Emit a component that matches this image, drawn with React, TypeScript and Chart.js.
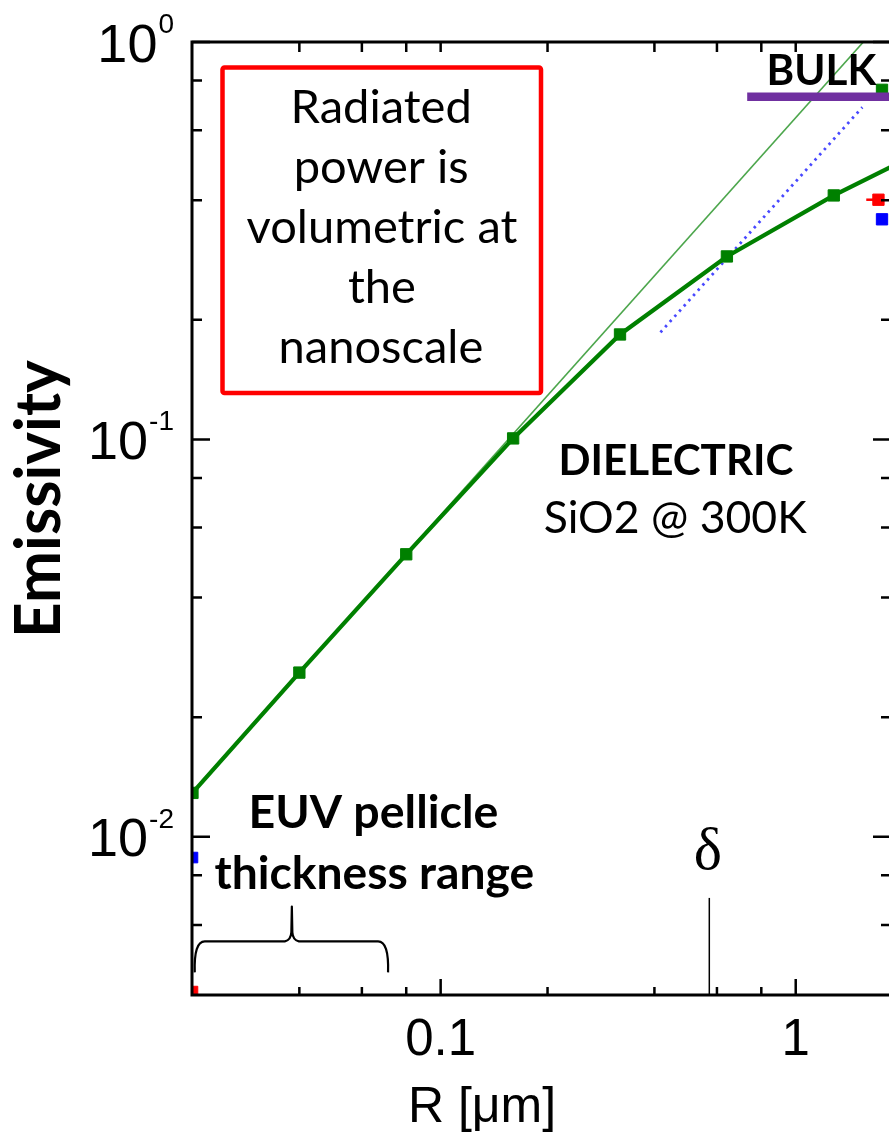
import React, { useEffect, useRef } from 'react';
import { Chart, registerables } from 'chart.js';

Chart.register(...registerables);

// ---- data ----
const radiusUm = [0.02, 0.04, 0.08, 0.16, 0.32, 0.64, 1.28, 2.56];
const emissivity = [0.0129, 0.0259, 0.0514, 0.1006, 0.1837, 0.2887, 0.4111, 0.56];

const linearRadius = [0.02, 2.0];
const linearEmissivity = [0.0129, 1.29];

const blueRadius = [0.416, 1.54];
const blueEmissivity = [0.186, 0.685];

const bulkRadius = [0.73, 2.0];
const bulkEmissivity = [0.728, 0.728];

const deltaRadius = [0.571, 0.571];
const deltaEmissivity = [0.004, 0.00702];

const bulkGreenRadius = [1.75];
const bulkGreenEmissivity = [0.758];
const bulkRedRadius = [1.58, 1.71];
const bulkRedEmissivity = [0.401, 0.401];
const bulkBlueRadius = [1.75];
const bulkBlueEmissivity = [0.358];

const edgeRedRadius = [0.02];
const edgeRedEmissivity = [0.00408];
const edgeBlueRadius = [0.02];
const edgeBlueEmissivity = [0.00887];

// brace: left end, tip, right end (x) ; end, bar, tip (y)
const braceRadius = [0.0203, 0.0381, 0.0711];
const braceEmissivity = [0.00456, 0.00546, 0.00668];

const xMajorTicks = [0.1, 1];
const xMajorLabels = ['0.1', '1'];
const xMinorTicks = [0.04, 0.06, 0.08, 0.2, 0.4, 0.6, 0.8];
const yMajorTicks = [1, 0.1, 0.01];
const yMajorExponents = ['0', '-1', '-2'];
const yMinorTicks = [0.8, 0.6, 0.4, 0.2, 0.08, 0.06, 0.04, 0.02, 0.008, 0.006];

const X_MIN = 0.01994;
const X_MAX = 1.855;
const Y_MIN = 0.004;
const Y_MAX = 1;

const boxLines = ['Radiated', 'power is', 'volumetric at', 'the', 'nanoscale'];

const pts = (xs: number[], ys: number[]) => xs.map((x, i) => ({ x, y: ys[i] }));

const SANS = "'Liberation Sans', Arial, sans-serif";
const CAL = 'Lato, sans-serif';
const SERIF = "'Liberation Serif', 'Times New Roman', serif";

function inkWidth(ctx: CanvasRenderingContext2D, text: string) {
  ctx.textAlign = 'left';
  ctx.textBaseline = 'alphabetic';
  const m = ctx.measureText(text);
  return { w: m.actualBoundingBoxLeft + m.actualBoundingBoxRight, l: m.actualBoundingBoxLeft };
}

function fitSize(ctx: CanvasRenderingContext2D, text: string, weight: string, family: string, width: number) {
  ctx.font = `${weight} 100px ${family}`;
  const { w } = inkWidth(ctx, text);
  return (100 * width) / w;
}

function drawCentered(ctx: CanvasRenderingContext2D, text: string, cx: number, baseline: number) {
  const { w, l } = inkWidth(ctx, text);
  ctx.fillText(text, cx - w / 2 + l, baseline);
}

function drawFitted(
  ctx: CanvasRenderingContext2D,
  text: string,
  weight: string,
  family: string,
  width: number,
  cx: number,
  baseline: number
) {
  const size = fitSize(ctx, text, weight, family, width);
  ctx.font = `${weight} ${size}px ${family}`;
  drawCentered(ctx, text, cx, baseline);
}

const decorPlugin = {
  id: 'decor',
  afterDatasetsDraw(chart: any) {
    const ctx: CanvasRenderingContext2D = chart.ctx;
    const { left, right, top, bottom } = chart.chartArea;
    const xs = chart.scales.x;
    const ys = chart.scales.y;
    ctx.save();

    // brace for EUV pellicle thickness range
    const xl = xs.getPixelForValue(braceRadius[0]);
    const xt = xs.getPixelForValue(braceRadius[1]);
    const xr = xs.getPixelForValue(braceRadius[2]);
    const yEnd = ys.getPixelForValue(braceEmissivity[0]);
    const yBar = ys.getPixelForValue(braceEmissivity[1]);
    const yTip = ys.getPixelForValue(braceEmissivity[2]);
    ctx.strokeStyle = '#000';
    ctx.lineWidth = 2.2;
    ctx.lineJoin = 'round';
    ctx.beginPath();
    ctx.moveTo(xl, yEnd);
    ctx.quadraticCurveTo(xl - 1, yBar, xl + 10, yBar);
    ctx.lineTo(xt - 7, yBar);
    ctx.quadraticCurveTo(xt - 1, yBar - 1, xt - 0.5, yBar - 9);
    ctx.lineTo(xt, yTip);
    ctx.lineTo(xt + 0.5, yBar - 9);
    ctx.quadraticCurveTo(xt + 1, yBar - 1, xt + 7, yBar);
    ctx.lineTo(xr - 10, yBar);
    ctx.quadraticCurveTo(xr + 1, yBar, xr, yEnd);
    ctx.stroke();

    // frame
    ctx.lineWidth = 3;
    ctx.lineCap = 'square';
    ctx.beginPath();
    ctx.moveTo(left, top);
    ctx.lineTo(right, top);
    ctx.moveTo(left, bottom);
    ctx.lineTo(right, bottom);
    ctx.moveTo(left, top);
    ctx.lineTo(left, bottom);
    ctx.moveTo(right, top);
    ctx.lineTo(right, bottom);
    ctx.stroke();

    // inward ticks
    ctx.lineCap = 'butt';
    ctx.lineWidth = 2.5;
    ctx.beginPath();
    const yTick = (v: number, len: number) => {
      const p = ys.getPixelForValue(v);
      ctx.moveTo(left, p);
      ctx.lineTo(left + len, p);
      ctx.moveTo(right, p);
      ctx.lineTo(right - len, p);
    };
    yMajorTicks.forEach((v) => yTick(v, 18));
    yMinorTicks.forEach((v) => yTick(v, 10));
    const xTick = (v: number, lenB: number, lenT: number) => {
      const p = xs.getPixelForValue(v);
      ctx.moveTo(p, bottom);
      ctx.lineTo(p, bottom - lenB);
      ctx.moveTo(p, top);
      ctx.lineTo(p, top + lenT);
    };
    xMajorTicks.forEach((v) => xTick(v, 16, 10));
    xMinorTicks.forEach((v) => xTick(v, 8, 10));
    ctx.stroke();
    ctx.restore();
  },
  afterDraw(chart: any) {
    const ctx: CanvasRenderingContext2D = chart.ctx;
    const xs = chart.scales.x;
    const ys = chart.scales.y;
    ctx.save();
    ctx.fillStyle = '#000';

    // y tick labels 10^n
    yMajorTicks.forEach((v, i) => {
      const p = ys.getPixelForValue(v);
      ctx.textBaseline = 'alphabetic';
      ctx.textAlign = 'right';
      ctx.font = `28px ${SANS}`;
      const sup = yMajorExponents[i];
      const supW = ctx.measureText(sup).width;
      ctx.fillText(sup, 174, p - 9);
      ctx.font = `54px ${SANS}`;
      ctx.fillText('10', 174 - supW - 1, p + 19.5);
    });

    // x tick labels
    ctx.font = `51px ${SANS}`;
    ctx.textAlign = 'center';
    ctx.textBaseline = 'alphabetic';
    xMajorTicks.forEach((v, i) => {
      ctx.fillText(xMajorLabels[i], xs.getPixelForValue(v), 1055);
    });

    // axis titles
    ctx.font = `50px ${SANS}`;
    ctx.textAlign = 'center';
    ctx.fillText('R [\u03bcm]', 482, 1122);

    ctx.save();
    ctx.translate(60, 496.5);
    ctx.rotate(-Math.PI / 2);
    drawFitted(ctx, 'Emissivity', 'bold', CAL, 273, 0, 0);
    ctx.restore();

    // red box
    ctx.save();
    ctx.fillStyle = '#fff';
    ctx.strokeStyle = '#ff0000';
    ctx.lineWidth = 4.5;
    ctx.beginPath();
    ctx.roundRect(222.5, 67.5, 318.5, 325.5, 2);
    ctx.fill();
    ctx.stroke();
    ctx.restore();
    const boxSize = fitSize(ctx, 'volumetric at', 'normal', CAL, 270);
    ctx.font = `normal ${boxSize}px ${CAL}`;
    ctx.fillStyle = '#000';
    boxLines.forEach((line, i) => drawCentered(ctx, line, 382, 123 + i * 60));

    // annotations
    drawFitted(ctx, 'BULK', 'bold', CAL, 107, 823.5, 85);
    drawFitted(ctx, 'DIELECTRIC', 'bold', CAL, 231, 677.5, 475);
    drawFitted(ctx, 'SiO2 @ 300K', 'normal', CAL, 262, 676, 533);
    drawFitted(ctx, 'EUV pellicle', 'bold', CAL, 245, 374.5, 828);
    drawFitted(ctx, 'thickness range', 'bold', CAL, 318, 374, 889);

    ctx.font = `60px ${SERIF}`;
    drawCentered(ctx, '\u03b4', xs.getPixelForValue(deltaRadius[0]) - 1, 869);

    ctx.restore();
  },
};

export default function App() {
  const ref = useRef<HTMLCanvasElement>(null);

  useEffect(() => {
    const canvas = ref.current;
    if (!canvas) return;
    const green = '#008000';
    const chart = new Chart(canvas, {
      type: 'scatter',
      data: {
        datasets: [
          {
            label: 'BULK',
            data: pts(bulkRadius, bulkEmissivity),
            showLine: true,
            borderColor: '#7030a0',
            borderWidth: 8.5,
            pointRadius: 0,
            clip: 0,
          },
          {
            label: 'SiO2 emissivity',
            data: pts(radiusUm, emissivity),
            showLine: true,
            borderColor: green,
            borderWidth: 4.2,
            pointStyle: 'rect',
            pointRadius: 8,
            pointBackgroundColor: green,
            pointBorderColor: green,
            pointBorderWidth: 1,
            clip: 0,
          },
          {
            label: 'Linear (volumetric) limit',
            data: pts(linearRadius, linearEmissivity),
            showLine: true,
            borderColor: 'rgba(0,128,0,0.7)',
            borderWidth: 1.6,
            pointRadius: 0,
            clip: 0,
          },
          {
            label: 'Blue dotted',
            data: pts(blueRadius, blueEmissivity),
            showLine: true,
            borderColor: 'rgba(40,40,255,0.85)',
            borderWidth: 2.8,
            borderDash: [2.5, 4.5],
            pointRadius: 0,
            clip: 0,
          },
          {
            label: 'delta',
            data: pts(deltaRadius, deltaEmissivity),
            showLine: true,
            borderColor: '#000',
            borderWidth: 1.5,
            pointRadius: 0,
            clip: 0,
          },
          {
            label: 'bulk green',
            data: pts(bulkGreenRadius, bulkGreenEmissivity),
            pointStyle: 'rect',
            pointRadius: 8,
            pointBackgroundColor: green,
            pointBorderColor: green,
            pointBorderWidth: 1,
            clip: false,
          },
          {
            label: 'bulk red',
            data: pts(bulkRedRadius, bulkRedEmissivity),
            showLine: true,
            borderColor: '#ff0000',
            borderWidth: 2.5,
            pointStyle: 'rect',
            pointRadius: [0, 8],
            pointBackgroundColor: '#ff0000',
            pointBorderColor: '#ff0000',
            pointBorderWidth: 1,
            clip: false,
          },
          {
            label: 'bulk blue',
            data: pts(bulkBlueRadius, bulkBlueEmissivity),
            pointStyle: 'rect',
            pointRadius: 8,
            pointBackgroundColor: '#0000ff',
            pointBorderColor: '#0000ff',
            pointBorderWidth: 1,
            clip: false,
          },
          {
            label: 'edge red',
            data: pts(edgeRedRadius, edgeRedEmissivity),
            pointStyle: 'rect',
            pointRadius: 7.5,
            pointBackgroundColor: '#ff0000',
            pointBorderColor: '#ff0000',
            pointBorderWidth: 1,
            clip: 0,
          },
          {
            label: 'edge blue',
            data: pts(edgeBlueRadius, edgeBlueEmissivity),
            pointStyle: 'rect',
            pointRadius: 7.5,
            pointBackgroundColor: '#0000ff',
            pointBorderColor: '#0000ff',
            pointBorderWidth: 1,
            clip: 0,
          },
        ],
      },
      options: {
        responsive: false,
        maintainAspectRatio: false,
        animation: false,
        events: [],
        layout: { padding: { top: 42, right: 3, bottom: 0, left: 0 } },
        plugins: {
          legend: { display: false },
          tooltip: { enabled: false },
          title: { display: false },
        },
        scales: {
          x: {
            type: 'logarithmic',
            min: X_MIN,
            max: X_MAX,
            ticks: { display: false },
            grid: { display: false },
            border: { display: false },
            afterFit: (s: any) => {
              s.height = 1138 - 995;
            },
          },
          y: {
            type: 'logarithmic',
            min: Y_MIN,
            max: Y_MAX,
            ticks: { display: false },
            grid: { display: false },
            border: { display: false },
            afterFit: (s: any) => {
              s.width = 192;
            },
          },
        },
      } as any,
      plugins: [decorPlugin],
    });
    return () => chart.destroy();
  }, []);

  return (
    <div
      style={{
        position: 'absolute',
        left: 0,
        top: 0,
        width: 889,
        height: 1138,
        overflow: 'hidden',
        background: '#fff',
      }}
    >
      <canvas ref={ref} width={900} height={1138} style={{ display: 'block', width: 900, height: 1138 }} />
    </div>
  );
}
